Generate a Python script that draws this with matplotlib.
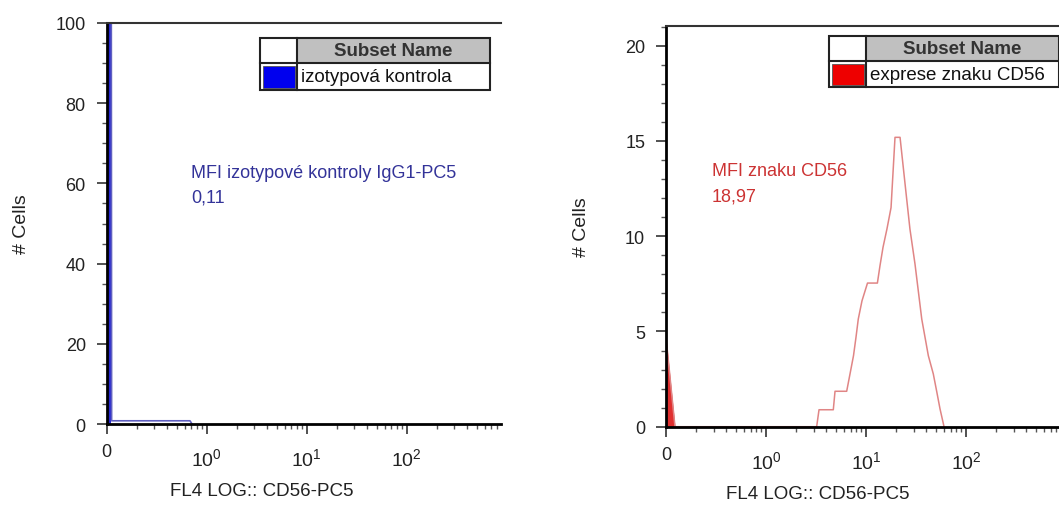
import numpy as np
import matplotlib
matplotlib.use('Agg')
import matplotlib.pyplot as plt
from matplotlib.patches import Rectangle
from matplotlib.transforms import ScaledTranslation
from matplotlib.ticker import FixedLocator, FixedFormatter, LogLocator, MultipleLocator

plt.rcParams['font.family'] = ['Liberation Sans', 'DejaVu Sans']
plt.rcParams['mathtext.fontset'] = 'custom'
plt.rcParams['mathtext.rm'] = 'Liberation Sans'
plt.rcParams['mathtext.it'] = 'Liberation Sans:italic'
plt.rcParams['mathtext.bf'] = 'Liberation Sans:bold'

# data (x = FL4 log intensity, y = # cells)
iso_x = [0.1, 0.1, 0.111, 0.112, 0.681, 0.713]
iso_y = [0, 130, 130, 0.8, 0.8, 0]

cd56_x = [0.1, 0.1, 0.123, 3.21, 3.39, 4.71, 4.90, 6.41, 6.92, 7.50, 7.94, 8.37,
          9.12, 10.35, 13.0, 13.8, 14.8, 16.2, 17.8, 19.5, 21.9, 25.1, 27.5,
          30.9, 36.1, 42.0, 47.1, 50.9, 55.0, 60.3]
cd56_y = [0, 4.7, 0, 0, 0.89, 0.89, 1.86, 1.86, 2.77, 3.73, 4.69, 5.65,
          6.61, 7.54, 7.54, 8.45, 9.42, 10.38, 11.5, 15.19, 15.19, 12.3, 10.38,
          8.54, 5.65, 3.73, 2.77, 1.86, 0.93, 0]

x_ticks = [0.1, 1, 10, 100]
x_tick_labels = ['0', '$10^{0}$', '$10^{1}$', '$10^{2}$']
x_title = 'FL4 LOG:: CD56-PC5'
y_title = '# Cells'

W, H = 1059, 506
fig = plt.figure(figsize=(W / 100, H / 100), dpi=100)


def fx(px):
    return px / W


def fy(py):
    return 1 - py / H


def style_axes(ax, xmax, ymax, ymajor, yminor, xlab_x):
    ax.set_xscale('log')
    ax.set_xlim(0.1, xmax)
    ax.set_ylim(0, ymax)
    ax.xaxis.set_major_locator(FixedLocator(x_ticks))
    ax.xaxis.set_major_formatter(FixedFormatter(x_tick_labels))
    ax.xaxis.set_minor_locator(LogLocator(base=10, subs=np.arange(2, 10), numticks=20))
    ax.xaxis.set_minor_formatter(FixedFormatter([]))
    ax.yaxis.set_major_locator(MultipleLocator(ymajor))
    ax.yaxis.set_minor_locator(MultipleLocator(yminor))
    ax.tick_params(which='major', length=7, width=1.2, pad=7, labelsize=13,
                   color='#333333', labelcolor='#222222')
    ax.tick_params(which='minor', length=3.5, width=1, color='#555555')
    ax.tick_params(axis='y', which='major', pad=8)
    ax.tick_params(axis='x', which='major', labelsize=14)
    ax.spines['right'].set_visible(False)
    ax.spines['left'].set_linewidth(2)
    ax.spines['bottom'].set_linewidth(2)
    ax.spines['top'].set_linewidth(1.5)
    ax.spines['top'].set_color('#333333')
    ax.set_xlabel(x_title, fontsize=13.5, color='#222222')
    ax.set_ylabel(y_title, fontsize=14, color='#222222')
    ax.xaxis.set_label_coords(xlab_x, -0.145)
    # the "0" label stays small, the powers of ten sit a little lower
    labels = ax.get_xticklabels()
    labels[0].set_fontsize(13)
    for lab in labels[1:]:
        lab.set_transform(lab.get_transform() +
                          ScaledTranslation(0, -3 / 72, fig.dpi_scale_trans))


def draw_legend(x0, x1, xdiv, y0, ymid, y1, label, color):
    fig.add_artist(Rectangle((fx(xdiv), fy(ymid)), fx(x1) - fx(xdiv), fy(y0) - fy(ymid),
                             transform=fig.transFigure, facecolor='#c0c0c0',
                             edgecolor='none'))
    fig.add_artist(Rectangle((fx(x0 + 2.5), fy(y1 - 2.5)), fx(xdiv - 2.5) - fx(x0 + 2.5),
                             fy(ymid + 3) - fy(y1 - 2.5), transform=fig.transFigure,
                             facecolor=color, edgecolor='#555555', lw=0.6))
    fig.add_artist(Rectangle((fx(x0), fy(y1)), fx(x1) - fx(x0), fy(y0) - fy(y1),
                             transform=fig.transFigure, facecolor='none',
                             edgecolor='#222222', lw=1.5))
    fig.add_artist(plt.Line2D([fx(x0), fx(x1)], [fy(ymid), fy(ymid)],
                              transform=fig.transFigure, color='#222222', lw=1.5))
    fig.add_artist(plt.Line2D([fx(xdiv), fx(xdiv)], [fy(y0), fy(y1)],
                              transform=fig.transFigure, color='#222222', lw=1.5))
    fig.text(fx((xdiv + x1) / 2), fy((y0 + ymid) / 2), 'Subset Name', ha='center',
             va='center', fontsize=13.5, fontweight='bold', color='#333333')
    fig.text(fx(xdiv + 4), fy((ymid + y1) / 2), label, ha='left', va='center',
             fontsize=13.5, color='#111111')


# left panel: isotype control
ax1 = fig.add_axes([fx(106.7), fy(425), (500.7 - 106.7) / W, 401 / H])
ax1.fill_between(iso_x[:3], iso_y[:3], color='#2a2ad0', lw=0)
ax1.plot(iso_x, iso_y, color='#6060c0', lw=1.2, clip_on=True)
style_axes(ax1, 10 ** 2.94, 100, 20, 5, 155 / 394)
ax1.yaxis.set_label_coords(-0.195, 0.5)

# right panel: CD56 expression
ax2 = fig.add_axes([fx(666), fy(427.7), 400 / W, 401 / H])
ax2.fill_between(cd56_x[:3], cd56_y[:3], color='#e03030', lw=0)
ax2.plot(cd56_x, cd56_y, color='#e08585', lw=1.1)
style_axes(ax2, 1000, 21.05, 5, 1, 151.5 / 400)
ax2.yaxis.set_label_coords(-0.19, 0.5)

draw_legend(260, 490, 297, 39, 64, 91, 'izotypová kontrola', '#0000ee')
draw_legend(829, 1059, 866, 37, 62, 88, 'exprese znaku CD56', '#ee0000')

fig.text(fx(191), fy(173), 'MFI izotypové kontroly IgG1-PC5', ha='left', va='center',
         fontsize=13, color='#333399')
fig.text(fx(191), fy(198), '0,11', ha='left', va='center', fontsize=13, color='#333399')
fig.text(fx(712), fy(172), 'MFI znaku CD56', ha='left', va='center', fontsize=13,
         color='#cc3333')
fig.text(fx(712), fy(197), '18,97', ha='left', va='center', fontsize=13, color='#cc3333')

fig.savefig('out.png', dpi=100, facecolor='white')
